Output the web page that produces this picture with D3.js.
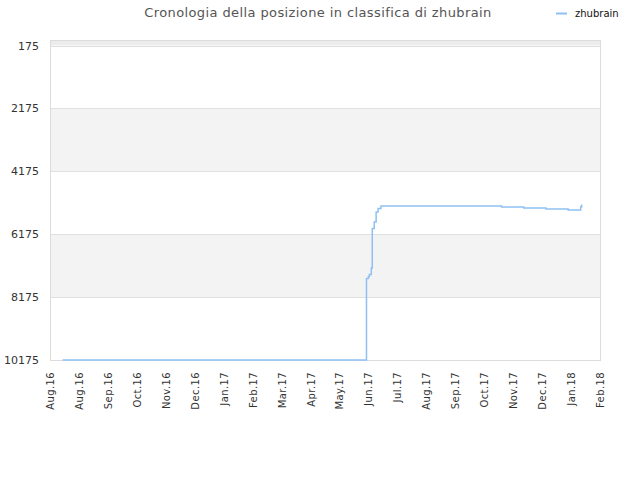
<!DOCTYPE html>
<html>
<head>
<meta charset="utf-8">
<script src="https://cdn.jsdelivr.net/npm/d3@7"></script>
<style>
  body { margin: 0; background: #fff; }
  text { font-family: "DejaVu Sans", sans-serif; }
</style>
</head>
<body>
<div id="chart"></div>
<script>
'use strict';

// classifica di zhubrain nel tempo
const dates = ['2016-08-14', '2017-06-25', '2017-06-27', '2017-06-28', '2017-06-30',
  '2017-07-01', '2017-07-03', '2017-07-05', '2017-07-07', '2017-07-10',
  '2017-11-12', '2017-12-05', '2017-12-28', '2018-01-20', '2018-02-02', '2018-02-03'];
const ranks = [10175, 7580, 7520, 7455, 7250,
  5995, 5785, 5468, 5360, 5277,
  5309, 5341, 5373, 5404, 5300, 5233];

const tickDates = ['2016-08-01', '2016-08-31', '2016-09-30', '2016-10-30', '2016-11-29',
  '2016-12-29', '2017-01-28', '2017-02-27', '2017-03-29', '2017-04-28', '2017-05-28',
  '2017-06-27', '2017-07-27', '2017-08-26', '2017-09-25', '2017-10-25', '2017-11-24',
  '2017-12-24', '2018-01-23', '2018-02-22'];
const tickLabels = ['Aug.16', 'Aug.16', 'Sep.16', 'Oct.16', 'Nov.16', 'Dec.16', 'Jan.17',
  'Feb.17', 'Mar.17', 'Apr.17', 'May.17', 'Jun.17', 'Jul.17', 'Aug.17', 'Sep.17',
  'Oct.17', 'Nov.17', 'Dec.17', 'Jan.18', 'Feb.18'];
const yTicks = [175, 2175, 4175, 6175, 8175, 10175];

drawChart('#chart');

function drawChart(el) {
  const width = 640;
  const height = 480;
  const left = 50;
  const right = 600;
  const top = 40;
  const bottom = 360;
  const parse = d3.timeParse('%Y-%m-%d');

  const svg = d3.select(el)
    .append('svg')
    .attr('width', width)
    .attr('height', height);

  const scaleX = d3.scaleTime()
    .domain([parse(tickDates[0]), parse(tickDates[tickDates.length - 1])])
    .range([left, right]);

  // ranking: 0 in alto
  const scaleY = d3.scaleLinear()
    .domain([0, 10175])
    .range([top, bottom]);

  // fasce alternate
  const bands = [[0, 175]];
  for (let i = 1; i < yTicks.length; i += 2) bands.push([yTicks[i], yTicks[i + 1]]);
  svg.selectAll('rect.band')
    .data(bands)
    .enter()
    .append('rect')
    .attr('class', 'band')
    .attr('x', left)
    .attr('width', right - left)
    .attr('y', d => scaleY(d[0]))
    .attr('height', d => scaleY(d[1]) - scaleY(d[0]))
    .attr('fill', (d, i) => i === 0 ? '#ececec' : '#f3f3f3');

  // griglia
  svg.selectAll('line.grid')
    .data(yTicks)
    .enter()
    .append('line')
    .attr('x1', left)
    .attr('x2', right)
    .attr('y1', d => Math.round(scaleY(d)) + 0.5)
    .attr('y2', d => Math.round(scaleY(d)) + 0.5)
    .attr('stroke', '#e0e0e0');

  // bordo
  svg.append('rect')
    .attr('x', left + 0.5)
    .attr('y', top + 0.5)
    .attr('width', right - left)
    .attr('height', bottom - top)
    .attr('fill', 'none')
    .attr('stroke', '#dcdcdc');

  // asse Y
  svg.append('g')
    .selectAll('text')
    .data(yTicks)
    .enter()
    .append('text')
    .attr('x', left - 11)
    .attr('y', d => scaleY(d) + 4)
    .attr('text-anchor', 'end')
    .attr('font-size', 11)
    .attr('fill', '#333')
    .text(d => d);

  // asse X
  svg.append('g')
    .selectAll('text')
    .data(tickDates)
    .enter()
    .append('text')
    .attr('transform', d => `translate(${scaleX(parse(d)) + 4}, ${bottom + 12}) rotate(-90)`)
    .attr('text-anchor', 'end')
    .attr('font-size', 10)
    .attr('letter-spacing', 0.4)
    .attr('fill', '#333')
    .text((d, i) => tickLabels[i]);

  // linea
  const points = dates.map((d, i) => [parse(d), ranks[i]]);
  const line = d3.line()
    .x(d => scaleX(d[0]))
    .y(d => scaleY(d[1]))
    .curve(d3.curveStepAfter);

  svg.append('path')
    .datum(points)
    .attr('d', line)
    .attr('fill', 'none')
    .attr('stroke', '#8ec1f2')
    .attr('stroke-width', 1.5);

  // titolo
  svg.append('text')
    .attr('x', 318)
    .attr('y', 17)
    .attr('text-anchor', 'middle')
    .attr('font-size', 13)
    .attr('letter-spacing', 0.4)
    .attr('fill', '#555')
    .text('Cronologia della posizione in classifica di zhubrain');

  // legenda
  svg.append('line')
    .attr('x1', 556)
    .attr('x2', 567)
    .attr('y1', 13.5)
    .attr('y2', 13.5)
    .attr('stroke', '#8ec1f2')
    .attr('stroke-width', 2);

  svg.append('text')
    .attr('x', 575)
    .attr('y', 16.5)
    .attr('font-size', 10)
    .attr('fill', '#111')
    .text('zhubrain');
}
</script>
</body>
</html>
